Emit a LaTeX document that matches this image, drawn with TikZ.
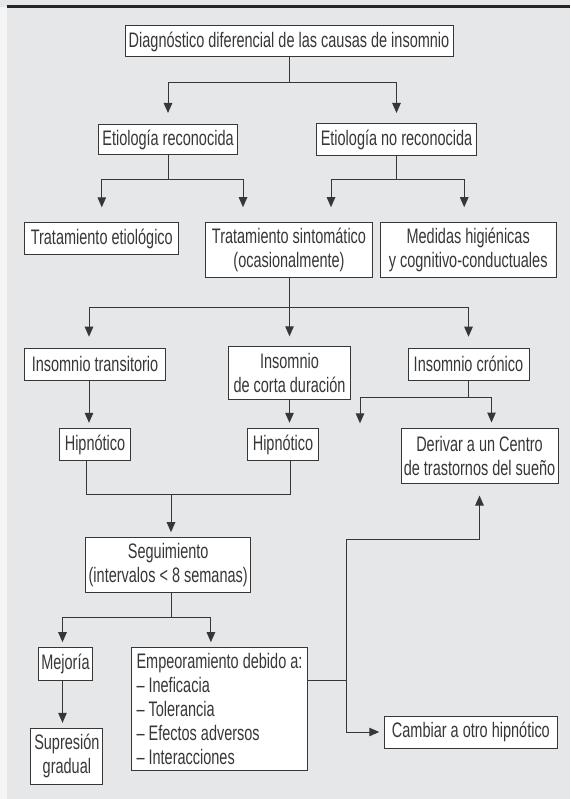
\documentclass[tikz,border=0pt]{standalone}
\usepackage{fontspec}
\setmainfont[FakeStretch=0.69]{Liberation Sans}
\usetikzlibrary{arrows.meta}
\definecolor{panelgray}{RGB}{230,231,232}
\definecolor{inkgray}{RGB}{55,55,55}

\begin{document}
\begin{tikzpicture}[x=1pt,y=1pt,yscale=-1,xscale=1,
  font=\fontsize{21}{24}\selectfont,
  box/.style={draw=inkgray,fill=white,line width=1pt,inner sep=0pt,align=center,text=inkgray},
  line/.style={draw=inkgray,line width=1pt},
  conn/.style={line,-{Triangle[length=10pt,width=8.5pt]}}]
\useasboundingbox (0,0) rectangle (570,799);

%Panel
\fill[panelgray] (0,0) rectangle (570,799);
\fill[white!60!panelgray] (0,7.5) rectangle (6.5,799);
\draw[line width=2.2pt,black!85] (6.5,6.5) -- (570,6.5);

% Text Node
\node[box,minimum width=328pt,minimum height=31pt] (diag) at (289,41.5) {Diagnóstico diferencial de las causas de insomnio};
% Text Node
\node[box,minimum width=139pt,minimum height=30pt] (etrec) at (168,139.5) {Etiología reconocida};
% Text Node
\node[box,minimum width=160pt,minimum height=32pt] (etnorec) at (396.5,139.5) {Etiología no reconocida};
% Text Node
\node[box,minimum width=154pt,minimum height=32pt] (tretio) at (101.8,238.8) {Tratamiento etiológico};
% Text Node
\node[box,minimum width=167pt,minimum height=55pt] (trsint) at (289,250.2) {Tratamiento sintomático\\(ocasionalmente)};
% Text Node
\node[box,minimum width=176pt,minimum height=55pt] (medidas) at (468.2,250.2) {Medidas higiénicas\\y cognitivo-conductuales};
% Text Node
\node[box,minimum width=141pt,minimum height=32pt] (instrans) at (95,364.2) {Insomnio transitorio};
% Text Node
\node[box,minimum width=122.5pt,minimum height=53pt] (inscorta) at (289.5,373.3) {Insomnio\\de corta duración};
% Text Node
\node[box,minimum width=121pt,minimum height=32pt] (inscron) at (468.5,364.2) {Insomnio crónico};
% Text Node
\node[box,minimum width=71.6pt,minimum height=32.4pt] (hipA) at (95,444.5) {Hipnótico};
% Text Node
\node[box,minimum width=71.6pt,minimum height=32.4pt] (hipB) at (283,444.5) {Hipnótico};
% Text Node
\node[box,minimum width=157pt,minimum height=55pt] (derivar) at (479.5,455.5) {Derivar a un Centro\\de trastornos del sueño};
% Text Node
\node[box,minimum width=165.4pt,minimum height=55pt] (seguim) at (168.2,565.2) {Seguimiento\\(intervalos < 8 semanas)};
% Text Node
\node[box,minimum width=54.5pt,minimum height=33pt] (mejoria) at (65.5,664.2) {Mejoría};
% Text Node
\node[box,minimum width=72pt,minimum height=55.7pt] (supresion) at (66.9,756.2) {Supresión\\gradual};
% Text Node
\node[box,minimum width=175.7pt,minimum height=123pt,align=left] (empeor) at (219.5,709.2) {Empeoramiento debido a:\\– Ineficacia\\– Tolerancia\\– Efectos adversos\\– Interacciones};
% Text Node
\node[box,minimum width=172.3pt,minimum height=32pt] (cambiar) at (470.9,732) {Cambiar a otro hipnótico};

%Straight Lines
\draw[conn,shorten >=11pt] (diag.south) -- ++(0,25.5) -| (etrec.north);
\draw[conn,shorten >=10pt] (diag.south) -- ++(0,25.5) -| (etnorec.north);
%Straight Lines
\draw[conn,shorten >=15pt] (etrec.south) -- ++(0,24.5) -| (tretio.north);
\draw[conn,shorten >=15pt] (etrec.south) -- ++(0,24.5) -| ([xshift=-46pt]trsint.north);
\draw[conn,shorten >=15pt] (etnorec.south) -- ++(0,23.5) -| ([xshift=42pt]trsint.north);
\draw[conn,shorten >=15pt] (etnorec.south) -- ++(0,23.5) -| ([xshift=-4pt]medidas.north);
%Straight Lines
\draw[conn,shorten >=11pt] (trsint.south) -- ++(0,29.6) -| ([xshift=-6pt]instrans.north);
\draw[conn,shorten >=10pt] (trsint.south) -- ++(0,29.6) -| (inscorta.north);
\draw[conn,shorten >=11pt] (trsint.south) -- ++(0,29.6) -| (inscron.north);
%Straight Lines
\draw[conn,shorten >=5pt] ([xshift=-6pt]instrans.south) -- ([xshift=-6pt]hipA.north);
\draw[conn,shorten >=5pt] (inscorta.south) -- (inscorta.south |- hipB.north);
\coordinate (loose) at (360,423.3);
\draw[conn] (inscron.south) -- ++(0,16.5) -| (loose);
\draw[conn,shorten >=5pt] (inscron.south) -- ++(0,16.5) -| ([xshift=12pt]derivar.north);
%Straight Lines
\coordinate (merge) at (171,494.3);
\draw[line] ([xshift=-9pt]hipA.south) |- (merge) -| ([xshift=7pt]hipB.south);
\draw[conn,shorten >=5pt] (merge) -- (merge |- seguim.north);
%Straight Lines
\draw[conn,shorten >=5pt] ([xshift=3.4pt]seguim.south) -- ++(0,24.6) -| ([xshift=-3pt]mejoria.north);
\draw[conn,shorten >=5pt] ([xshift=3.4pt]seguim.south) -- ++(0,24.6) -| ([xshift=-8.6pt]empeor.north);
\draw[conn,shorten >=5pt] ([xshift=-3pt]mejoria.south) -- ([xshift=-3pt]mejoria.south |- supresion.north);
%Straight Lines
\coordinate (split) at (346.5,680);
\coordinate (turn) at (346.5,539);
\draw[line] (empeor.east |- split) -- (split);
\draw[conn,shorten >=12pt] (split) -- (turn) -| (derivar.south);
\draw[conn,shorten >=5pt] (split) |- (cambiar.west);

\end{tikzpicture}
\end{document}
